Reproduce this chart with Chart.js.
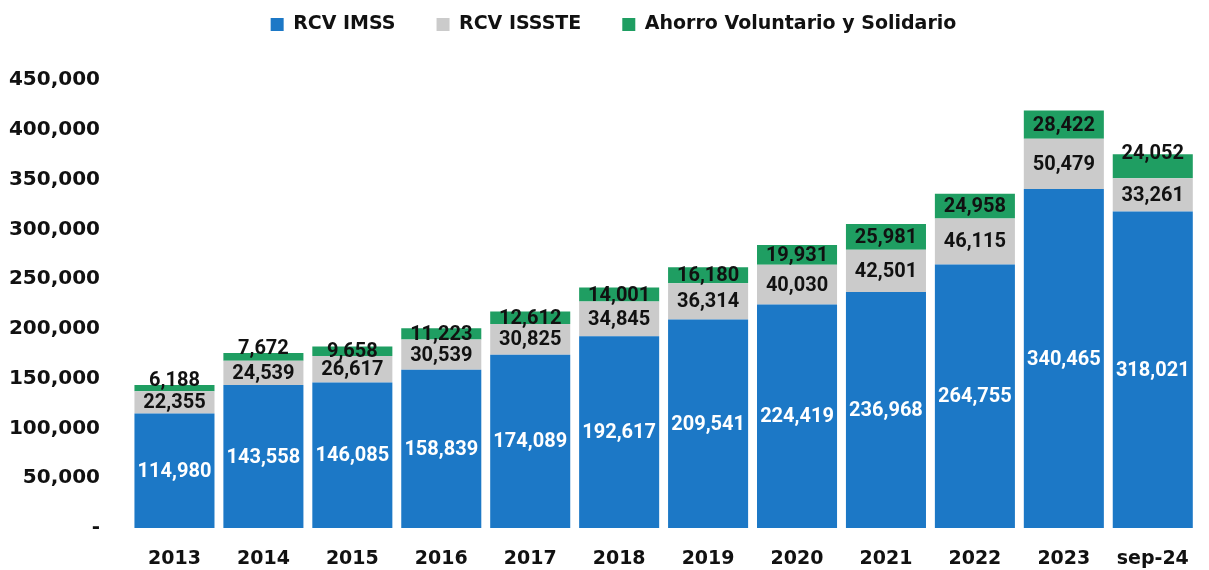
<!DOCTYPE html>
<html>
<head>
<meta charset="utf-8">
<script src="https://cdn.jsdelivr.net/npm/chart.js@4.4.1/dist/chart.umd.min.js"></script>
<style>
html,body{margin:0;padding:0;background:#fff;}
#wrap{width:1209px;height:570px;}
</style>
</head>
<body>
<div id="wrap"><canvas id="c" width="1209" height="570"></canvas></div>
<script>
const categories = ['2013','2014','2015','2016','2017','2018','2019','2020','2021','2022','2023','sep-24'];
const rcvImss = [114980,143558,146085,158839,174089,192617,209541,224419,236968,264755,340465,318021];
const rcvIssste = [22355,24539,26617,30539,30825,34845,36314,40030,42501,46115,50479,33261];
const ahorroVolSol = [6188,7672,9658,11223,12612,14001,16180,19931,25981,24958,28422,24052];
const yTicks = [0,50000,100000,150000,200000,250000,300000,350000,400000,450000];

const BLUE = '#1c78c6';
const GRAY = '#cbcbcb';
const GREEN = '#1f9e62';

const fmt = v => v.toLocaleString('en-US');

const labelPlugin = {
  id: 'segLabels',
  afterDatasetsDraw(chart) {
    const ctx = chart.ctx;
    ctx.save();
    ctx.font = 'bold 20px Roboto';
    ctx.textAlign = 'center';
    ctx.textBaseline = 'middle';
    chart.data.datasets.forEach((ds, di) => {
      const meta = chart.getDatasetMeta(di);
      meta.data.forEach((el, i) => {
        const p = el.getProps(['x','y','base'], true);
        const top = Math.min(p.y, p.base), bot = Math.max(p.y, p.base);
        const h = bot - top;
        let y = (top + bot) / 2;
        if (di === 2) {
          if (h < 9) y = top - 5;
          else if (i === meta.data.length - 1) y = top - 1;
        }
        ctx.fillStyle = di === 0 ? '#ffffff' : '#111111';
        ctx.fillText(fmt(ds.data[i]), p.x, y + 1);
      });
    });
    ctx.restore();
  }
};

const legendGap = {
  id: 'legendGap',
  beforeInit(chart) {
    const fit = chart.legend.fit;
    chart.legend.fit = function () {
      fit.bind(chart.legend)();
      this.height += 36;
    };
  },
  afterLayout(chart) {
    chart.legend.left += 22;
  }
};

new Chart(document.getElementById('c'), {
  type: 'bar',
  data: {
    labels: categories,
    datasets: [
      { label: 'RCV IMSS', data: rcvImss, backgroundColor: BLUE },
      { label: 'RCV ISSSTE', data: rcvIssste, backgroundColor: GRAY },
      { label: 'Ahorro Voluntario y Solidario', data: ahorroVolSol, backgroundColor: GREEN }
    ]
  },
  options: {
    responsive: false,
    devicePixelRatio: 1,
    animation: false,
    layout: { padding: { top: -26, right: 4, bottom: -21, left: 0 } },
    datasets: { bar: { barPercentage: 0.9, categoryPercentage: 1.0 } },
    plugins: {
      legend: {
        position: 'top',
        align: 'center',
        labels: {
          boxWidth: 13,
          boxHeight: 13,
          padding: 41,
          color: '#111',
          font: { family: 'DejaVu Sans', weight: 'bold', size: 19 }
        }
      },
      tooltip: { enabled: false }
    },
    scales: {
      x: {
        stacked: true,
        grid: { display: false, drawTicks: false },
        border: { display: false },
        ticks: {
          color: '#111',
          padding: 20,
          font: { family: 'DejaVu Sans', weight: 'bold', size: 19 }
        }
      },
      y: {
        stacked: true,
        min: 0,
        max: 450000,
        grid: { display: false, drawTicks: false },
        border: { display: false },
        afterFit(s) { s.width = 130; },
        afterBuildTicks(s) { s.ticks = yTicks.map(v => ({ value: v })); },
        ticks: {
          color: '#111',
          padding: 30,
          font: { family: 'DejaVu Sans', weight: 'bold', size: 20 },
          callback: v => v === 0 ? '-' : fmt(v)
        }
      }
    }
  },
  plugins: [labelPlugin, legendGap]
});
</script>
</body>
</html>
